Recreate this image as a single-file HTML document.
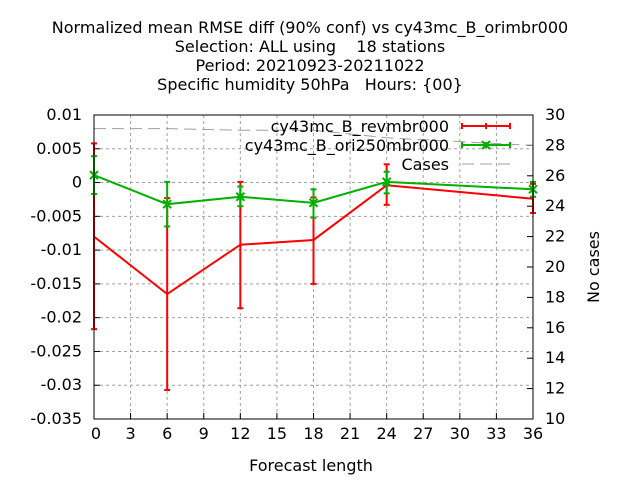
<!DOCTYPE html>
<html><head><meta charset="utf-8"><style>
body{margin:0;background:#fff}
svg{display:block;font-family:"DejaVu Sans","Liberation Sans",sans-serif}
text{white-space:pre}
</style></head><body>
<svg id="c" width="640" height="480">
<g font-size="16" text-anchor="middle" fill="#000">
<text x="310" y="33">Normalized mean RMSE diff (90% conf) vs cy43mc_B_orimbr000</text>
<text x="310" y="52">Selection: ALL using    18 stations</text>
<text x="310" y="71">Period: 20210923-20211022</text>
<text x="310" y="90">Specific humidity 50hPa   Hours: {00}</text>
</g>
<text x="311" y="471" font-size="16" text-anchor="middle">Forecast length</text>
<text transform="translate(599,267) rotate(-90)" font-size="16" text-anchor="middle">No cases</text>
</svg>
<script>
const xTicks=[0,3,6,9,12,15,18,21,24,27,30,33,36];
const yTicks=[0.01,0.005,0,-0.005,-0.01,-0.015,-0.02,-0.025,-0.03,-0.035];
const yTickLabels=["0.01","0.005","0","-0.005","-0.01","-0.015","-0.02","-0.025","-0.03","-0.035"];
const y2Ticks=[10,12,14,16,18,20,22,24,26,28,30];
const steps=[0,6,12,18,24,36];
const revVal=[-0.0080,-0.0165,-0.0092,-0.0085,-0.0004,-0.0024];
const revLo=[-0.0217,-0.0307,-0.0186,-0.0150,-0.0033,-0.0045];
const revHi=[0.0058,-0.0023,0.0001,-0.0022,0.0027,-0.0002];
const oriVal=[0.0011,-0.0032,-0.0021,-0.0030,0.0001,-0.0010];
const oriLo=[-0.0017,-0.0065,-0.0035,-0.0052,-0.0016,-0.0021];
const oriHi=[0.0039,0.0001,-0.0006,-0.0010,0.0016,0.0001];
const cases=[29.1,29.1,29.0,29.0,28.5,28.0];
const L=94,R=533,T=115,B=419;
const X=v=>L+(v-0)/36*(R-L);
const Y=v=>T+(0.01-v)/0.045*(B-T);
const Y2=v=>T+(30-v)/20*(B-T);
const svg=document.getElementById('c');const NS='http://www.w3.org/2000/svg';
function mk(t,a,p){const e=document.createElementNS(NS,t);for(const k in a)e.setAttribute(k,a[k]);(p||svg).appendChild(e);return e;}
const grid=mk('g',{stroke:'#a0a0a0','stroke-width':1,'stroke-dasharray':'3,3'});


xTicks.forEach((t,i)=>{
  if(i>0&&i<xTicks.length-1)mk('line',{x1:X(t),x2:X(t),y1:T,y2:B},grid);
  const tk=mk('line',{x1:X(t),x2:X(t),y1:B,y2:B-6,stroke:'#000'});
  
  
  const tx=mk('text',{x:X(t)+(i==0?2:0),y:B+20,'font-size':16,'text-anchor':'middle'});tx.textContent=t;
  
  
});
yTicks.forEach((t,i)=>{
  if(i>0&&i<yTicks.length-1)mk('line',{x1:L,x2:R,y1:Y(t),y2:Y(t)},grid);
  mk('line',{x1:L,x2:L+6,y1:Y(t),y2:Y(t),stroke:'#000'});
  const tx=mk('text',{x:L-12,y:Y(t)+5,'font-size':16,'text-anchor':'end'});tx.textContent=yTickLabels[i];
  
  
});
y2Ticks.forEach(t=>{
  mk('line',{x1:R,x2:R-6,y1:Y2(t),y2:Y2(t),stroke:'#000'});
  const tx=mk('text',{x:R+12,y:Y2(t)+5,'font-size':16});tx.textContent=t;
  
  
});
const cl=mk('polyline',{points:steps.map((s,i)=>X(s)+','+Y2(cases[i])).join(' '),fill:'none',stroke:'#a0a0a0','stroke-width':1,'stroke-dasharray':'12,6'});


function series(vals,lo,hi,col,name,cross){
  const g=mk('g',{stroke:col,'stroke-width':2,fill:'none'});
  
  
  mk('polyline',{points:steps.map((s,i)=>X(s)+','+Y(vals[i])).join(' ')},g);
  steps.forEach((s,i)=>{
    const x=X(s);
    mk('line',{x1:x,x2:x,y1:Y(lo[i]),y2:Y(hi[i])},g);
    mk('line',{x1:x-3,x2:x+3,y1:Y(lo[i]),y2:Y(lo[i])},g);
    mk('line',{x1:x-3,x2:x+3,y1:Y(hi[i]),y2:Y(hi[i])},g);
    if(cross){const y=Y(vals[i]);mk('path',{d:`M${x-4} ${y-4}L${x+4} ${y+4}M${x-4} ${y+4}L${x+4} ${y-4}`},g);}
  });
}
series(revVal,revLo,revHi,'#ff0000','series-revmbr000',false);
series(oriVal,oriLo,oriHi,'#00b000','series-ori250mbr000',true);
const fr=mk('rect',{x:L,y:T,width:R-L,height:B-T,fill:'none',stroke:'#000','stroke-width':1});


const lg=mk('g',{'font-size':16});


const leg=[["cy43mc_B_revmbr000",'#ff0000',false,132],["cy43mc_B_ori250mbr000",'#00b000',true,151],["Cases",'#a0a0a0',null,170]];
leg.forEach(([t,c,cr,y])=>{
  const e=mk('text',{x:449,y:y,'text-anchor':'end'},lg);e.textContent=t;
  
  
  const ly=y-6;
  if(cr===null){mk('line',{x1:462,x2:510,y1:ly,y2:ly,stroke:c,'stroke-dasharray':'12,6'},lg);}
  else{
    mk('line',{x1:462,x2:510,y1:ly,y2:ly,stroke:c,'stroke-width':2},lg);
    mk('line',{x1:462,x2:462,y1:ly-3,y2:ly+3,stroke:c,'stroke-width':2},lg);
    mk('line',{x1:510,x2:510,y1:ly-3,y2:ly+3,stroke:c,'stroke-width':2},lg);
    mk('line',{x1:486,x2:486,y1:ly-3,y2:ly+3,stroke:c,'stroke-width':2},lg);
    if(cr)mk('path',{d:`M482 ${ly-4}L490 ${ly+4}M482 ${ly+4}L490 ${ly-4}`,stroke:c,'stroke-width':2},lg);
  }
});
</script>
</body></html>
